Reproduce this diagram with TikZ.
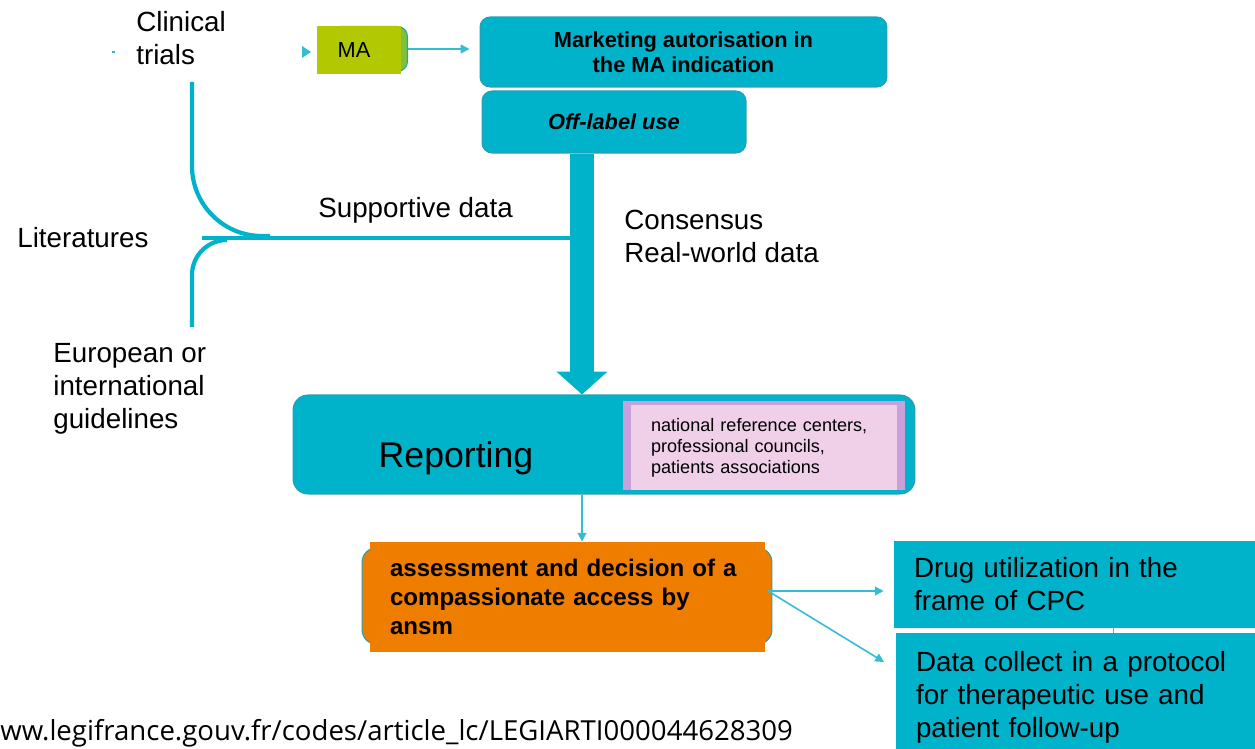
\documentclass[tikz,border=0pt]{standalone}
\usepackage{fontspec}
\setmainfont{Liberation Sans}
\newfontfamily\urlfont{Open Sans}
\usetikzlibrary{arrows.meta, positioning}
\definecolor{boxcyan}{HTML}{00B2CA}
\definecolor{boxedge}{HTML}{2A9FB0}
\definecolor{linecyan}{HTML}{35BCD4}
\definecolor{magreen}{HTML}{B2C800}
\definecolor{ansmorange}{HTML}{EE7D00}
\definecolor{lilac}{HTML}{C9A0DA}
\definecolor{pinkfill}{HTML}{F0D0E9}
\newcommand\fsbig{\fontsize{15.8}{18.8}\selectfont}
\newcommand\fsbox{\fontsize{12.4}{14.2}\selectfont}
\newcommand\fsrep{\fontsize{20.3}{24}\selectfont}
\newcommand\fssmall{\fontsize{10.3}{11.9}\selectfont}
\newcommand\fsassess{\fontsize{13.7}{16.4}\selectfont}
\newcommand\fsurl{\urlfont\fontsize{15.7}{18}\selectfont}
\tikzset{
  cyanbox/.style={fill=boxcyan, draw=boxedge, line width=0.6pt, rounded corners=0.2cm, inner sep=0pt},
  flatbox/.style={fill=boxcyan, inner xsep=0.4cm, inner ysep=0pt, align=left, font=\fsbig},
  thinarrow/.style={draw=linecyan, line width=0.9pt, -{Triangle[length=5pt,width=5pt]}},
  bracketline/.style={draw=boxcyan, line width=2.4pt},
  bigarrow/.style={draw=boxcyan, line width=13.6pt, -{Triangle[length=13pt,width=28.3pt]}},
  plain/.style={anchor=west, align=left, inner sep=0pt, font=\fsbig},
}

\begin{document}
\begin{tikzpicture}[x=0.02cm, y=-0.02cm]
  \useasboundingbox (0,0) rectangle (1255,749);

  % top row
  \node[cyanbox, fill=magreen!70!boxcyan, minimum width=1.54cm, minimum height=0.9cm] (mabg) at (369,49) {};
  \node[fill=magreen, minimum width=1.68cm, minimum height=0.96cm, inner sep=0pt, font=\fsbox] (ma) at (359,50)
    {\hspace*{-0.2cm}MA};
  \node[cyanbox, minimum width=8.14cm, minimum height=1.4cm, align=center, font=\fsbox\bfseries] (mkt) at (683.5,52)
    {Marketing autorisation in\\the MA indication};
  \node[cyanbox, minimum width=5.28cm, minimum height=1.24cm, font=\fsbox\bfseries\itshape] (offlabel) at (614,122)
    {Off-label use};
  \draw[thinarrow, shorten >=0.2cm] (mabg.east) -- (mabg.east -| mkt.west);
  \fill[linecyan] (302,46) -- (311,52) -- (302,58) -- cycle;
  \draw[linecyan, line width=1pt] (112,52) -- (115,52);

  % left texts
  \node[plain] (trials) at (136,38) {Clinical\\trials};
  \node[plain] (lit) at (17,238) {Literatures};
  \node[plain] (guide) at (53,389) {European or\\international\\guidelines};
  \node[plain] (support) at (318,210) {Supportive data};
  \node[plain] (cons) at (624,236) {Consensus\\Real-world data};

  % brackets joining the shaft
  \coordinate (shaft) at (582,0);
  \draw[bracketline, rounded corners=1.4cm] (192,82) -- (192,236) -- (270,236);
  \draw[bracketline, rounded corners=0.7cm] (226,240) -- (192,240) -- (192,327);
  \draw[bracketline] (202,238) -- (575,238);

  % reporting
  \node[cyanbox, rounded corners=0.3cm, minimum width=12.44cm, minimum height=1.98cm] (report) at (604,444.5) {};
  \node[inner sep=0pt, font=\fsrep] (reptext) at (456,458) {Reporting};
  \node[fill=lilac, minimum width=5.64cm, minimum height=1.78cm, inner sep=0pt] (actorsbg) at (764,445.5) {};
  \node[fill=pinkfill, minimum width=5.32cm, minimum height=1.7cm, inner xsep=0.4cm, inner ysep=0pt,
        text width=4.52cm, align=left, font=\fssmall] (actors) at (764,447.5)
    {national reference centers,\\professional councils,\\patients associations};
  \draw[bigarrow] (offlabel.south -| shaft) -- (report.north -| shaft);

  % decision
  \node[cyanbox, fill=ansmorange, rounded corners=0.3cm, minimum width=8.2cm, minimum height=1.94cm] (assessbg) at (567,596) {};
  \node[fill=ansmorange, minimum width=7.9cm, minimum height=2.2cm, inner xsep=0.4cm, inner ysep=0pt,
        text width=7.1cm, align=left, font=\fsassess\bfseries] (assess) at (567.5,597)
    {assessment and decision of a\\compassionate access by\\ansm};
  \draw[thinarrow] (report.south -| shaft) -- (assess.north -| shaft);

  % outcomes
  \node[flatbox, minimum width=7.22cm, minimum height=1.74cm, text width=6.42cm] (drug) at (1074.5,584.5)
    {Drug utilization in the\\frame of CPC};
  \node[flatbox, minimum width=7.18cm, minimum height=2.56cm, text width=6.38cm] (data) at (1075.5,697)
    {Data collect in a protocol\\for therapeutic use and\\patient follow-up};
  \coordinate (split) at (768,591);
  \coordinate (in2) at (884,662);
  \coordinate (tick) at (1113,0);
  \draw[thinarrow, shorten >=0.2cm] (split) -- (split -| drug.west);
  \draw[thinarrow] (split) -- (in2);
  \draw[linecyan, line width=0.5pt] (drug.south -| tick) -- (data.north -| tick);

  % source
  \node[anchor=west, inner sep=0pt, font=\fsurl] (src) at (0,733)
    {ww.legifrance.gouv.fr/codes/article\_lc/LEGIARTI000044628309};
\end{tikzpicture}
\end{document}
